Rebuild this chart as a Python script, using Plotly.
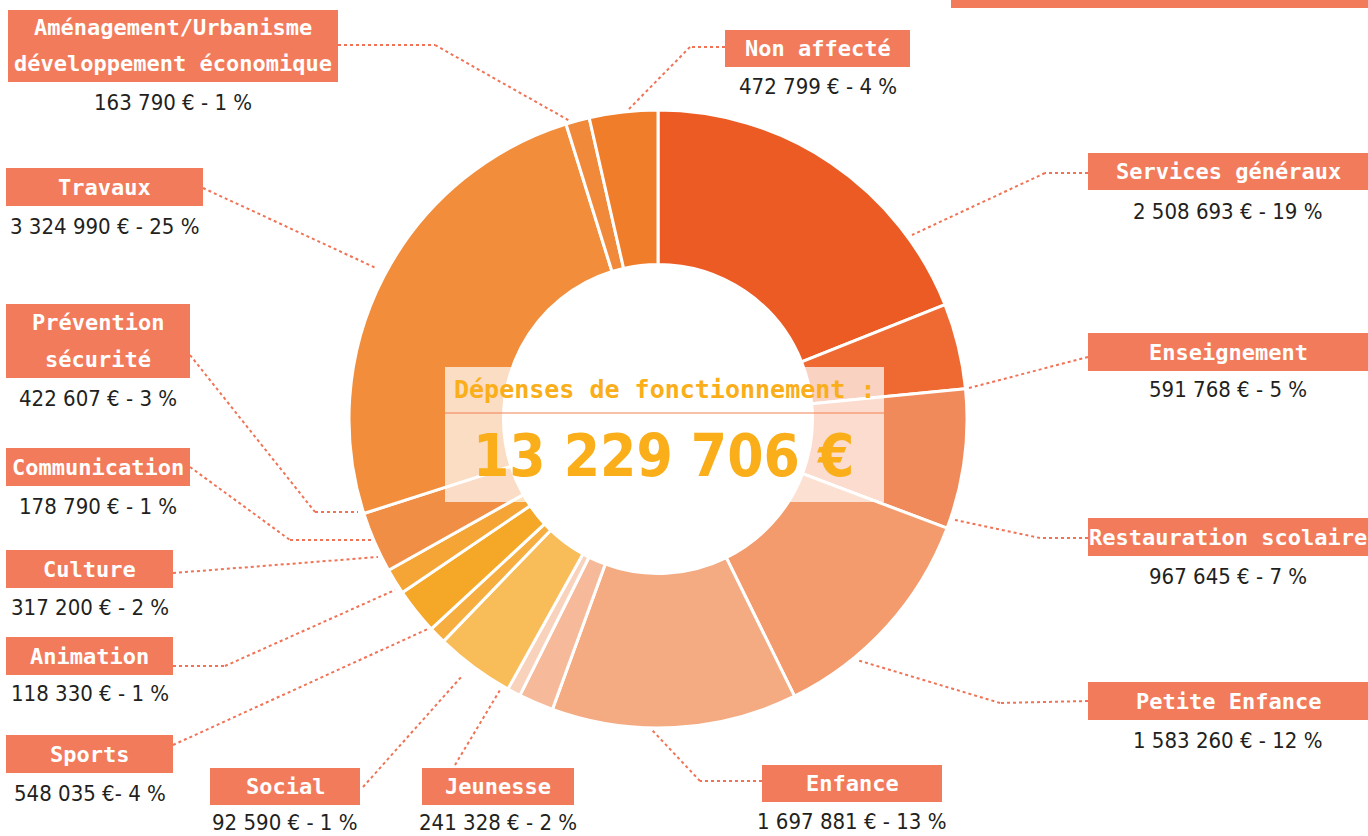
import plotly.graph_objects as go

# ---------------- data ----------------
categories = [
    "Services généraux", "Enseignement", "Restauration scolaire", "Petite Enfance",
    "Enfance", "Jeunesse", "Social", "Sports", "Animation", "Culture",
    "Communication", "Prévention sécurité", "Travaux",
    "Aménagement/Urbanisme développement économique", "Non affecté",
]
values = [2508693, 591768, 967645, 1583260, 1697881, 241328, 92590, 548035,
          118330, 317200, 178790, 422607, 3324990, 163790, 472799]
value_labels = [
    "2 508 693 € - 19 %", "591 768 € - 5 %", "967 645 € - 7 %", "1 583 260 € - 12 %",
    "1 697 881 € - 13 %", "241 328 € - 2 %", "92 590 € - 1 %", "548 035 €- 4 %",
    "118 330 € - 1 %", "317 200 € - 2 %", "178 790 € - 1 %", "422 607 € - 3 %",
    "3 324 990 € - 25 %", "163 790 € - 1 %", "472 799 € - 4 %",
]
box_titles = [
    ["Services généraux"], ["Enseignement"], ["Restauration scolaire"], ["Petite Enfance"],
    ["Enfance"], ["Jeunesse"], ["Social"], ["Sports"], ["Animation"], ["Culture"],
    ["Communication"], ["Prévention", "sécurité"], ["Travaux"],
    ["Aménagement/Urbanisme", "développement économique"], ["Non affecté"],
]
total_title = "Dépenses de fonctionnement :"
total_label = "13 229 706 €"

slice_colors = ["#EC5B24", "#EE6A32", "#F08A5A", "#F39B6C", "#F4AB82", "#F6BA9A",
                "#F9D2BB", "#F8BD58", "#F5AE3F", "#F5A727", "#F4A535", "#F08E45",
                "#F18D3B", "#F0893A", "#EF7D2A"]

# ---------------- layout helpers (pixel -> paper) ----------------
W, H = 1368, 836
def px(x): return x / W
def py(y): return 1 - y / H

# box: x0, y0, x1, y1, value-text y (pixels)
boxes = [
    (1088, 153, 1368, 190, 211),
    (1088, 333, 1368, 371, 390),
    (1088, 518, 1368, 556, 576),
    (1088, 682, 1368, 720, 740),
    (762, 765, 942, 802, 821),
    (422, 768, 574, 805, 822),
    (210, 768, 360, 805, 822),
    (6, 735, 173, 773, 793),
    (6, 637, 173, 675, 693),
    (6, 550, 173, 588, 607),
    (6, 448, 190, 486, 506),
    (6, 304, 190, 378, 398),
    (6, 168, 203, 206, 226),
    (8, 10, 338, 82, 103),
    (725, 30, 910, 67, 87),
]
leaders = [
    [(1088, 173), (1045, 173), (912, 235)],
    [(1088, 357), (969, 388)],
    [(1088, 538), (1040, 538), (955, 520)],
    [(1088, 701), (1000, 703), (857, 660)],
    [(762, 781), (700, 781), (652, 730)],
    [(455, 765), (500, 690)],
    [(363, 787), (462, 676)],
    [(173, 745), (430, 628)],
    [(173, 666), (225, 666), (395, 590)],
    [(173, 573), (378, 557)],
    [(190, 467), (290, 540), (372, 540)],
    [(190, 355), (315, 512), (358, 512)],
    [(203, 188), (376, 268)],
    [(338, 45), (435, 45), (570, 121)],
    [(725, 47), (690, 47), (628, 110)],
]

SALMON = "#F27B5C"
DOT = "#F07356"
cx, cy, R = 658, 419, 309

fig = go.Figure(go.Pie(
    labels=categories, values=values, sort=False, direction="clockwise", rotation=0,
    hole=0.5, textinfo="none", hoverinfo="label+value",
    marker=dict(colors=slice_colors, line=dict(color="white", width=3)),
    domain=dict(x=[px(cx - R), px(cx + R)], y=[py(cy + R), py(cy - R)]),
    showlegend=False,
))

shapes = []
annotations = []
for (x0, y0, x1, y1, vy), titles, vlab, pts in zip(boxes, box_titles, value_labels, leaders):
    shapes.append(dict(type="rect", xref="paper", yref="paper",
                       x0=px(x0), x1=px(x1), y0=py(y1), y1=py(y0),
                       fillcolor=SALMON, line=dict(width=0), layer="above"))
    n = len(titles)
    h = (y1 - y0) / n
    for i, t in enumerate(titles):
        annotations.append(dict(xref="paper", yref="paper", x=px((x0 + x1) / 2),
                                y=py(y0 + h * (i + 0.5)), text="<b>%s</b>" % t, showarrow=False,
                                xanchor="center", yanchor="middle",
                                font=dict(family="DejaVu Sans Mono", size=22, color="white")))
    annotations.append(dict(xref="paper", yref="paper", x=px((x0 + x1) / 2), y=py(vy),
                            text=vlab, showarrow=False, xanchor="center", yanchor="middle",
                            font=dict(family="Liberation Sans Narrow, DejaVu Sans Condensed, sans-serif",
                                      size=22, color="#231F20")))
    for (ax, ay), (bx, by) in zip(pts[:-1], pts[1:]):
        shapes.append(dict(type="line", xref="paper", yref="paper",
                           x0=px(ax), y0=py(ay), x1=px(bx), y1=py(by),
                           line=dict(color=DOT, width=2, dash="dot"), layer="below"))

# top-right bar
shapes.append(dict(type="rect", xref="paper", yref="paper", x0=px(951), x1=1, y0=py(8), y1=1,
                   fillcolor=SALMON, line=dict(width=0)))
# centre translucent box
shapes.append(dict(type="rect", xref="paper", yref="paper", x0=px(445), x1=px(884),
                   y0=py(502), y1=py(367), fillcolor="rgba(255,255,255,0.7)",
                   line=dict(width=0), layer="above"))
shapes.append(dict(type="line", xref="paper", yref="paper", x0=px(445), x1=px(884),
                   y0=py(413), y1=py(413), line=dict(color="#F08050", width=1), layer="above"))

annotations.append(dict(xref="paper", yref="paper", x=px(664), y=py(390), text="<b>%s</b>" % total_title,
                        showarrow=False, xanchor="center", yanchor="middle",
                        font=dict(family="DejaVu Sans Mono", size=25, color="#F9AE1A")))
annotations.append(dict(xref="paper", yref="paper", x=px(663), y=py(456), text="<b>%s</b>" % total_label,
                        showarrow=False, xanchor="center", yanchor="middle",
                        font=dict(family="Liberation Sans Narrow, DejaVu Sans Condensed, sans-serif",
                                  size=58, color="#F9AE1A")))

fig.update_layout(width=W, height=H, margin=dict(l=0, r=0, t=0, b=0),
                  paper_bgcolor="white", plot_bgcolor="white",
                  shapes=shapes, annotations=annotations)
fig.write_html("out.html", config={"displayModeBar": False},
               post_script="document.body.style.margin='0';document.body.style.overflow='hidden';")
